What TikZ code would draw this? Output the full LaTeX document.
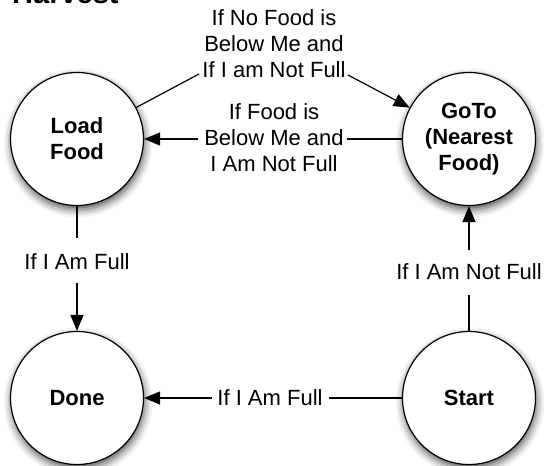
\documentclass[tikz,border=0pt]{standalone}
\usepackage{fontspec}
\setmainfont{Liberation Sans}
\usetikzlibrary{arrows.meta,shadows.blur}

\tikzset{
  state/.style={circle, draw=black, line width=1.2pt, fill=white,
    minimum size=133pt, inner sep=0pt, align=center,
    font=\fontsize{22}{26}\selectfont\bfseries,
    blur shadow={shadow xshift=1pt, shadow yshift=-4pt,
      shadow blur radius=8pt, shadow opacity=70}},
  cond/.style={align=center, inner sep=0pt,
    font=\fontsize{22}{26}\selectfont},
  link/.style={line width=1.2pt},
  trans/.style={link, -{Triangle[length=16pt,width=13pt]}}
}

\begin{document}
\begin{tikzpicture}[x=1pt,y=-1pt]
  \useasboundingbox (0,0) rectangle (544,466);

  % title
  \node[anchor=base west, inner sep=0pt,
        font=\fontsize{29}{31}\selectfont\bfseries] (title) at (12,3.5) {Harvest};

  % states
  \node[state] (load)  at (77,139)  {Load\\Food};
  \node[state] (goto)  at (469,139) {GoTo\\(Nearest\\Food)};
  \node[state] (done)  at (77,398)  {Done};
  \node[state] (start) at (469,398) {Start};

  % transition conditions
  \node[cond] (nofood)  at (274,44)  {If No Food is\\Below Me and\\If I am Not Full};
  \node[cond] (isfood)  at (274,138) {If Food is\\Below Me and\\I Am Not Full};
  \node[cond] (full1)   at (77,262)  {If I Am Full};
  \node[cond] (notfull) at (469,272) {If I Am Not Full};
  \node[cond] (full2)   at (270,398) {If I Am Full};

  % line ends around the conditions
  \coordinate (nofoodL) at (199,74);
  \coordinate (nofoodR) at (348,75);
  \coordinate (isfoodL) at (198,139);
  \coordinate (isfoodR) at (347,139);
  \coordinate (full1T)  at (77,238);
  \coordinate (full1B)  at (77,283);
  \coordinate (notfullB) at (469,295);
  \coordinate (notfullT) at (469,250);
  \coordinate (full2L)  at (212,398);
  \coordinate (full2R)  at (329,398);

  % Load Food -> GoTo
  \draw[link]  (load) -- (nofoodL);
  \draw[trans] (nofoodR) -- (goto);
  % GoTo -> Load Food
  \draw[link]  (goto) -- (isfoodR);
  \draw[trans] (isfoodL) -- (load);
  % Load Food -> Done
  \draw[link]  (load) -- (full1T);
  \draw[trans] (full1B) -- (done);
  % Start -> GoTo
  \draw[link]  (start) -- (notfullB);
  \draw[trans] (notfullT) -- (goto);
  % Start -> Done
  \draw[link]  (start) -- (full2R);
  \draw[trans] (full2L) -- (done);
\end{tikzpicture}
\end{document}
